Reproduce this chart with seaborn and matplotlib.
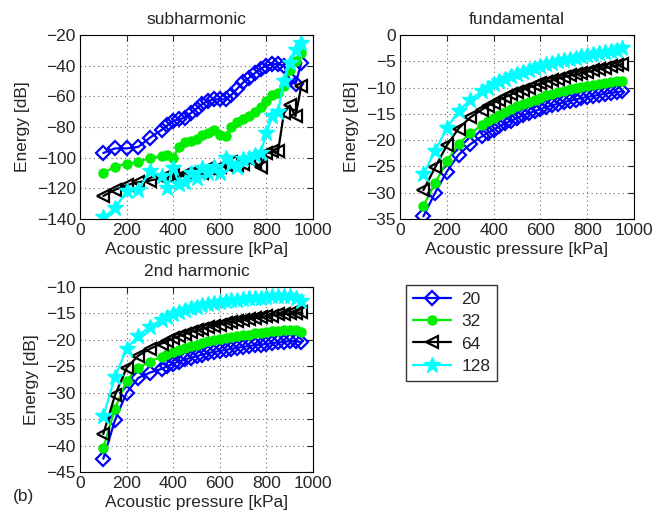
import numpy as np
import pandas as pd
import matplotlib
matplotlib.use("Agg")
import matplotlib.pyplot as plt
import seaborn as sns

# ---- data ----
pressure = [100, 150, 200, 250, 300, 350, 375, 400, 425, 450, 475, 500, 525, 550, 575,
            600, 625, 650, 675, 700, 725, 750, 775, 800, 825, 850, 875, 900, 925, 950]
labels = ["20", "32", "64", "128"]

# subharmonic
sub_20 = [-97, -94, -94, -93, -87, -82, -79, -76, -75, -74, -71, -68, -65, -63, -62,
          -62, -62, -59, -55, -51, -48, -45, -42, -40, -39, -39, -40, -49, -52, -38]
sub_32 = [-110, -106, -104, -103, -100, -99, -98, -100, -93, -90, -89, -88, -85, -84, -82,
          -85, -86, -80, -77, -75, -73, -70, -67, -63, -59, -58, -53, -43, -37, -32]
sub_64 = [-125, -121, -118, -116, -115, -113, -112, -111, -113, -111, -110, -109, -110, -107, -108,
          -106, -105, -103, -105, -104, -101, -103, -106, -97, -96, -96, -71, -66, -73, -53]
sub_128 = [-139, -133, -122, -121, -109, -112, -120, -107, -117, -116, -110, -113, -107, -110, -106,
           -110, -100, -104, -106, -101, -100, -98, -97, -84, -73, -70, -50, -38, -30, -25]

# fundamental
fun_20 = [-34.5, -30.0, -26.0, -22.8, -20.8, -19.3, -18.6, -18.0, -17.4, -16.8, -16.3, -15.8, -15.3, -14.9, -14.5,
          -14.1, -13.7, -13.4, -13.1, -12.8, -12.5, -12.3, -12.0, -11.8, -11.6, -11.4, -11.2, -11.0, -10.9, -10.7]
fun_32 = [-32.5, -28.2, -24.0, -20.7, -18.7, -17.2, -16.4, -15.8, -15.2, -14.6, -14.1, -13.6, -13.1, -12.7, -12.3,
          -11.9, -11.5, -11.2, -10.9, -10.6, -10.3, -10.1, -9.9, -9.7, -9.5, -9.3, -9.1, -9.0, -8.8, -8.7]
fun_64 = [-29.5, -25.2, -21.0, -17.8, -15.7, -14.2, -13.5, -12.9, -12.3, -11.8, -11.3, -10.8, -10.4, -10.0, -9.6,
          -9.2, -8.9, -8.6, -8.3, -8.0, -7.7, -7.5, -7.2, -7.0, -6.7, -6.5, -6.3, -6.0, -5.8, -5.5]
fun_128 = [-26.5, -22.0, -17.7, -14.5, -12.3, -10.7, -10.0, -9.4, -8.8, -8.3, -7.8, -7.4, -7.0, -6.6, -6.2,
           -5.9, -5.6, -5.3, -5.0, -4.8, -4.5, -4.3, -4.0, -3.8, -3.6, -3.4, -3.2, -3.0, -2.8, -2.5]

# 2nd harmonic
har_20 = [-42.5, -35.2, -30.0, -27.2, -26.2, -25.5, -25.0, -24.5, -24.1, -23.7, -23.4, -23.1, -22.8, -22.5, -22.3,
          -22.1, -21.9, -21.7, -21.5, -21.3, -21.2, -21.0, -20.9, -20.8, -20.6, -20.5, -20.4, -20.2, -20.2, -20.5]
har_32 = [-40.5, -33.0, -27.7, -25.3, -24.1, -23.2, -22.7, -22.3, -21.9, -21.5, -21.2, -20.9, -20.6, -20.3, -20.1,
          -19.9, -19.7, -19.5, -19.3, -19.1, -19.0, -18.8, -18.7, -18.5, -18.4, -18.3, -18.2, -18.1, -18.2, -18.6]
har_64 = [-37.8, -30.5, -25.3, -23.0, -21.7, -20.7, -20.2, -19.7, -19.3, -18.9, -18.5, -18.2, -17.9, -17.6, -17.3,
          -17.1, -16.8, -16.6, -16.4, -16.2, -16.0, -15.8, -15.7, -15.5, -15.4, -15.2, -15.1, -15.0, -14.9, -14.8]
har_128 = [-34.5, -27.0, -21.7, -19.2, -17.5, -16.2, -15.6, -15.1, -14.7, -14.3, -14.0, -13.7, -13.4, -13.2, -13.0,
           -12.8, -12.6, -12.5, -12.4, -12.2, -12.1, -12.0, -12.0, -11.9, -11.8, -11.8, -11.8, -11.8, -12.0, -12.7]

# ---- style ----
sns.set_style("white", {"xtick.direction": "in", "ytick.direction": "in"})
plt.rcParams["font.family"] = ["Liberation Sans", "DejaVu Sans"]
plt.rcParams["font.size"] = 12.5
plt.rcParams["xtick.top"] = True
plt.rcParams["ytick.right"] = True

series_style = [
    dict(color="#0000ff", marker="D", markersize=7, markerfacecolor="none", markeredgecolor="#0000ff", markeredgewidth=1.6),
    dict(color="#00ee00", marker="o", markersize=6.5, markerfacecolor="#00ee00", markeredgecolor="#00ee00", markeredgewidth=1),
    dict(color="black", marker="<", markersize=8.5, markerfacecolor="none", markeredgecolor="black", markeredgewidth=1.6),
    dict(color="#00ffff", marker="*", markersize=12, markerfacecolor="#00ffff", markeredgecolor="#00ffff", markeredgewidth=1),
]

panels = [
    ("subharmonic", [sub_20, sub_32, sub_64, sub_128], (-140, -20), 20),
    ("fundamental", [fun_20, fun_32, fun_64, fun_128], (-35, 0), 5),
    ("2nd harmonic", [har_20, har_32, har_64, har_128], (-45, -10), 5),
]
positions = [
    [0.1203, 0.574, 0.3504, 0.358],
    [0.6015, 0.574, 0.352, 0.358],
    [0.1203, 0.0817, 0.3504, 0.36],
]

fig = plt.figure(figsize=(6.65, 5.14), dpi=100)

handles = []
for (title, ys, ylim, ystep), pos in zip(panels, positions):
    ax = fig.add_axes(pos)
    for lab, y, st in zip(labels, ys, series_style):
        sns.lineplot(x=pressure, y=y, ax=ax, sort=False, linewidth=1.6, label=lab, **st)
    ax.set_xlim(0, 1000)
    ax.set_ylim(*ylim)
    ax.set_xticks(np.arange(0, 1001, 200))
    ax.set_yticks(np.arange(ylim[0], ylim[1] + 0.1, ystep))
    ax.set_title(title, fontsize=12.5, pad=8)
    ax.set_xlabel("Acoustic pressure [kPa]", labelpad=3)
    ax.set_ylabel("Energy [dB]", labelpad=5)
    ax.grid(True, linestyle=(0, (1, 3)), color="black", linewidth=0.8, alpha=0.6)
    ax.tick_params(labelsize=12.5, length=4, width=0.8, pad=3)
    for sp in ax.spines.values():
        sp.set_color("black")
        sp.set_linewidth(0.8)
    handles, leg_labels = ax.get_legend_handles_labels()
    ax.get_legend().remove()

fig.legend(handles, leg_labels, loc="upper left", bbox_to_anchor=(0.597, 0.462),
           frameon=True, fancybox=False, edgecolor="black", fontsize=12.5,
           handlelength=2.2, handletextpad=0.6, labelspacing=0.4, borderpad=0.4)
fig.text(0.02, 0.025, "(b)", fontsize=12.5)

plt.savefig("out.png", dpi=100)
